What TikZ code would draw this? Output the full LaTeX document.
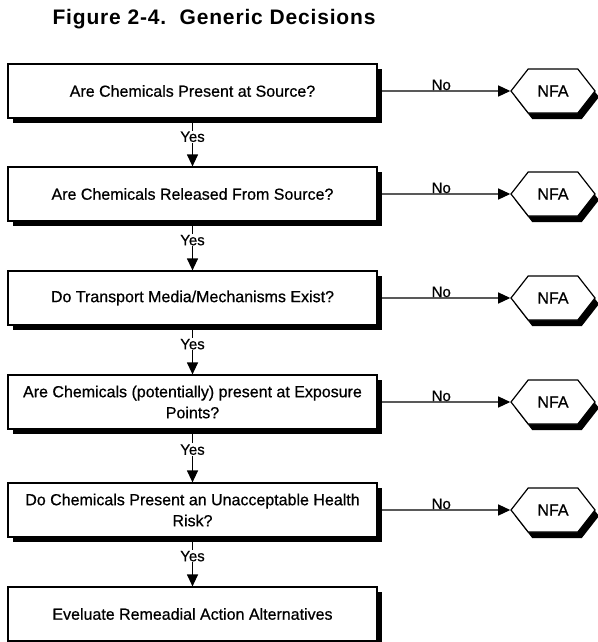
\documentclass[tikz,border=0pt]{standalone}
\usepackage{fontspec}
\setmainfont[FakeBold=0.6]{Liberation Sans}
\newfontfamily\titlefont[LetterSpace=4]{Liberation Sans}
\usetikzlibrary{arrows.meta,shapes.symbols,shadows}
\tikzset{
  blkshadow/.style={drop shadow={shadow xshift=5pt, shadow yshift=-5pt, fill=black, opacity=1}},
  qbox/.style={draw, line width=1.2pt, fill=white, blkshadow, minimum width=369pt, minimum height=54pt,
    align=center, font=\fontsize{16}{21}\selectfont},
  nfa/.style={signal, signal to=east and west, signal pointer angle=104, draw, line width=1.2pt, fill=white,
    drop shadow={shadow xshift=4pt, shadow yshift=-6pt, fill=black, opacity=1},
    minimum width=84pt, minimum height=44pt, inner sep=0pt, font=\fontsize{16}{16}\selectfont},
  flow/.style={line width=1.2pt, -{Triangle[length=12pt,width=11pt]}},
  lbl/.style={font=\fontsize{15}{15}\selectfont, inner sep=1pt}
}
\begin{document}
\begin{tikzpicture}[x=1pt,y=-1pt]
\useasboundingbox (0,0) rectangle (597,642);
\node (title) [anchor=base, font=\titlefont\fontsize{21}{21}\selectfont\bfseries] at (214,25) {Figure 2-4.\ \ Generic Decisions};
\foreach \i/\y/\t in {1/91/{Are Chemicals Present at Source?},
                      2/194/{Are Chemicals Released From Source?},
                      3/298/{Do Transport Media/Mechanisms Exist?},
                      4/402/{Are Chemicals (potentially) present at Exposure\\Points?},
                      5/510/{Do Chemicals Present an Unacceptable Health\\Risk?},
                      6/614/{Eveluate Remeadial Action Alternatives}} {
  \node (q\i) [qbox] at (192.5,\y) {\t};
}
\foreach \i in {1,...,5} {
  \node (n\i) [nfa] at (553,0 |- q\i) {NFA};
  \draw[flow] (q\i) -- node[pos=.48, anchor=base, lbl, inner sep=0pt, yshift=1pt] {No} (n\i);
}
\foreach \i/\j in {1/2,2/3,3/4,4/5,5/6} {
  \draw[flow] (q\i) -- node[pos=.38, fill=white, lbl] {Yes} (q\j);
}
\end{tikzpicture}
\end{document}
